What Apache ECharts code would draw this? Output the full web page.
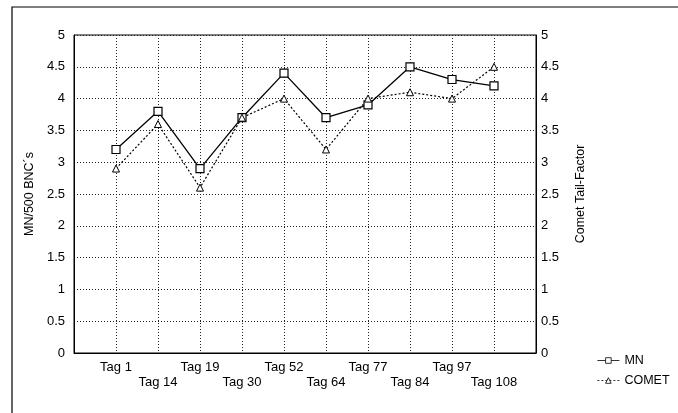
<!DOCTYPE html>
<html>
<head>
<meta charset="utf-8">
<script src="https://cdn.jsdelivr.net/npm/echarts@6/dist/echarts.min.js"></script>
<style>html,body{margin:0;padding:0;background:#fff}#c{width:678px;height:413px}</style>
</head>
<body>
<div id="c"></div>
<script>
var categories = ['Tag 1','Tag 14','Tag 19','Tag 30','Tag 52','Tag 64','Tag 77','Tag 84','Tag 97','Tag 108'];
var mnValues = [3.2, 3.8, 2.9, 3.7, 4.4, 3.7, 3.9, 4.5, 4.3, 4.2];
var cometValues = [2.9, 3.6, 2.6, 3.7, 4.0, 3.2, 4.0, 4.1, 4.0, 4.5];
var yTicks = [0, 0.5, 1, 1.5, 2, 2.5, 3, 3.5, 4, 4.5, 5];

function pairs(vals){ return vals.map(function(v,i){ return [i+1, v]; }); }
var font = 'Liberation Sans, Arial, sans-serif';
var gridLine = { show: true, lineStyle: { color: '#222', type: [1, 2], width: 1 } };
function yAxis(pos, name){
  return {
    type: 'value', position: pos, min: 0, max: 5, interval: 0.5,
    name: name, nameLocation: 'middle', nameRotate: 90, nameGap: pos === 'left' ? 34 : 38,
    nameTextStyle: { fontFamily: font, fontSize: 12.5, color: '#000' },
    axisLine: { show: true, lineStyle: { color: '#000' } },
    axisTick: { show: false },
    axisLabel: { fontFamily: font, fontSize: 13, color: '#000', margin: pos === 'left' ? 9 : 5,
      formatter: function(v){ return yTicks.indexOf(v) >= 0 ? String(v) : ''; } },
    splitLine: pos === 'left' ? gridLine : { show: false }
  };
}
var chart = echarts.init(document.getElementById('c'), null, { renderer: 'canvas' });
chart.setOption({
  animation: false,
  backgroundColor: '#fff',
  graphic: [{ type: 'rect', shape: { x: 12, y: 7, width: 700, height: 420 }, style: { fill: 'none', stroke: '#000', lineWidth: 1.2 } }],
  grid: { left: 74, right: 142, top: 35, bottom: 60, show: true, borderColor: '#000', borderWidth: 1 },
  legend: {
    orient: 'vertical', left: 592, top: 349, itemGap: 7, itemWidth: 22, itemHeight: 7,
    textStyle: { fontFamily: font, fontSize: 12.5, color: '#000' },
    data: [
      { name: 'MN', itemStyle: { borderWidth: 0.8 }, lineStyle: { width: 0.8 } },
      { name: 'COMET', itemStyle: { borderWidth: 0.8 }, lineStyle: { width: 0.8 } }
    ]
  },
  xAxis: {
    type: 'value', min: 0, max: 11, interval: 1,
    axisLine: { show: true, lineStyle: { color: '#000' } },
    axisTick: { show: false },
    axisLabel: {
      fontFamily: font, fontSize: 13, color: '#000', margin: 7, lineHeight: 15,
      formatter: function(v){
        if (v < 1 || v > categories.length) return '';
        var t = categories[v-1];
        return (v % 2 === 0) ? '\n' + t : t + '\n';
      }
    },
    splitLine: gridLine
  },
  yAxis: [yAxis('left', 'MN/500 BNC´s'), yAxis('right', 'Comet Tail-Factor')],
  series: [
    { name: 'MN', type: 'line', data: pairs(mnValues), symbol: 'rect', symbolSize: 8,
      lineStyle: { color: '#000', width: 1.3, type: 'solid' },
      itemStyle: { color: '#fff', borderColor: '#000', borderWidth: 1.2 } },
    { name: 'COMET', type: 'line', yAxisIndex: 1, data: pairs(cometValues), symbol: 'triangle', symbolSize: 7,
      lineStyle: { color: '#000', width: 1.2, type: [2, 2] },
      itemStyle: { color: '#fff', borderColor: '#000', borderWidth: 1 } }
  ]
});
</script>
</body>
</html>
